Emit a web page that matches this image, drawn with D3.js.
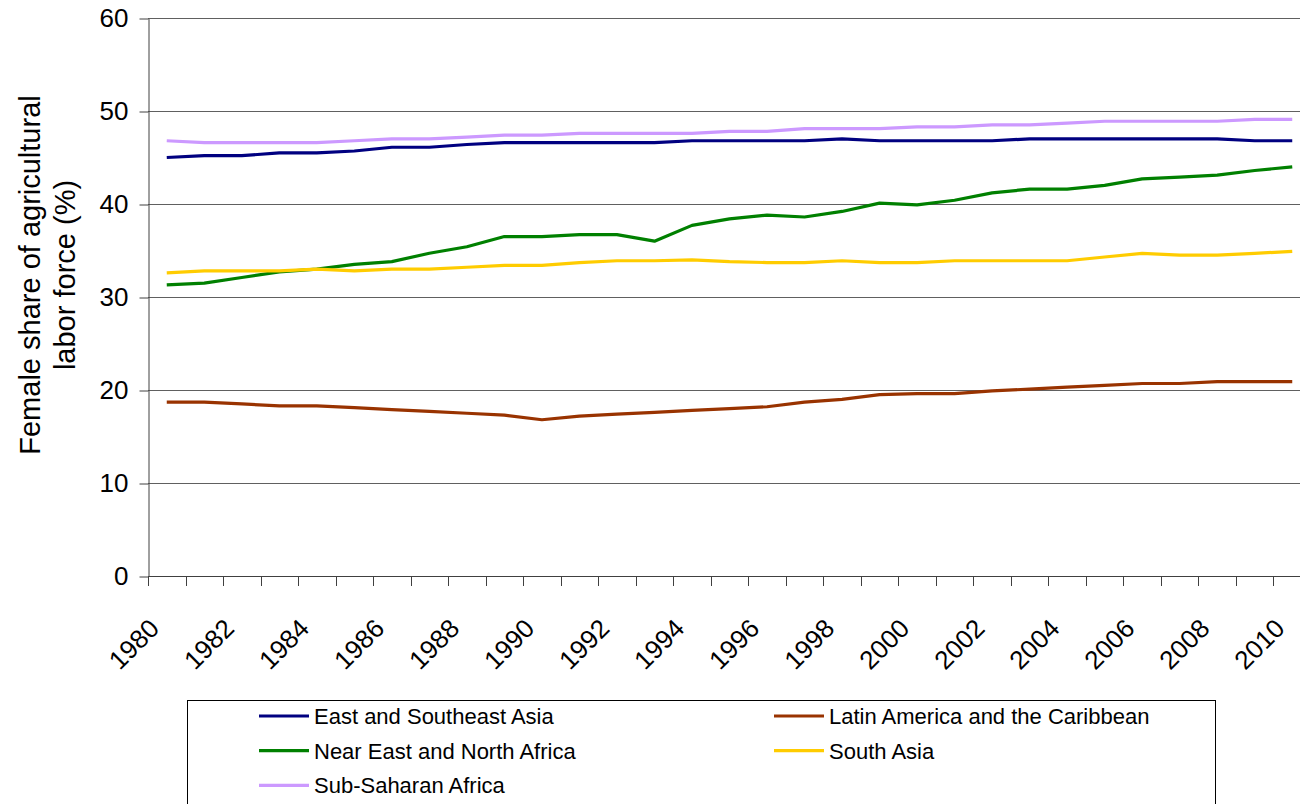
<!DOCTYPE html>
<head>
  <meta charset="utf-8">
  <script src="https://d3js.org/d3.v7.min.js"></script>
  <style>
    body { margin: 0; background: #fff; }
    text { font-family: "Liberation Sans", Arial, sans-serif; fill: #000; }
  </style>
</head>
<body>
  <svg width="1300" height="804"></svg>
  <script>
    const years = [1980, 1981, 1982, 1983, 1984, 1985, 1986, 1987, 1988, 1989,
      1990, 1991, 1992, 1993, 1994, 1995, 1996, 1997, 1998, 1999,
      2000, 2001, 2002, 2003, 2004, 2005, 2006, 2007, 2008, 2009, 2010];

    const eastAsia = [45.0, 45.2, 45.2, 45.5, 45.5, 45.7, 46.1, 46.1, 46.4, 46.6,
      46.6, 46.6, 46.6, 46.6, 46.8, 46.8, 46.8, 46.8, 47.0, 46.8,
      46.8, 46.8, 46.8, 47.0, 47.0, 47.0, 47.0, 47.0, 47.0, 46.8, 46.8];
    const latinAmerica = [18.7, 18.7, 18.5, 18.3, 18.3, 18.1, 17.9, 17.7, 17.5, 17.3,
      16.8, 17.2, 17.4, 17.6, 17.8, 18.0, 18.2, 18.7, 19.0, 19.5,
      19.6, 19.6, 19.9, 20.1, 20.3, 20.5, 20.7, 20.7, 20.9, 20.9, 20.9];
    const nearEast = [31.3, 31.5, 32.1, 32.7, 33.0, 33.5, 33.8, 34.7, 35.4, 36.5,
      36.5, 36.7, 36.7, 36.0, 37.7, 38.4, 38.8, 38.6, 39.2, 40.1,
      39.9, 40.4, 41.2, 41.6, 41.6, 42.0, 42.7, 42.9, 43.1, 43.6, 44.0];
    const southAsia = [32.6, 32.8, 32.8, 32.8, 33.0, 32.8, 33.0, 33.0, 33.2, 33.4,
      33.4, 33.7, 33.9, 33.9, 34.0, 33.8, 33.7, 33.7, 33.9, 33.7,
      33.7, 33.9, 33.9, 33.9, 33.9, 34.3, 34.7, 34.5, 34.5, 34.7, 34.9];
    const subSaharan = [46.8, 46.6, 46.6, 46.6, 46.6, 46.8, 47.0, 47.0, 47.2, 47.4,
      47.4, 47.6, 47.6, 47.6, 47.6, 47.8, 47.8, 48.1, 48.1, 48.1,
      48.3, 48.3, 48.5, 48.5, 48.7, 48.9, 48.9, 48.9, 48.9, 49.1, 49.1];

    const seriesNames = ["East and Southeast Asia", "Latin America and the Caribbean",
      "Near East and North Africa", "South Asia", "Sub-Saharan Africa"];
    const seriesValues = [eastAsia, latinAmerica, nearEast, southAsia, subSaharan];
    const seriesColors = ["#000080", "#993300", "#008000", "#ffcc00", "#cc99ff"];
    const yTicks = [0, 10, 20, 30, 40, 50, 60];

    const svg = d3.select("svg");
    const plotLeft = 148, plotRight = 1311, plotTop = 18, plotBottom = 576;

    const x = d3.scaleBand().domain(years).range([plotLeft, plotRight]);
    const y = d3.scaleLinear().domain([0, 60]).range([plotBottom, plotTop]);

    // gridlines
    svg.append("g")
      .selectAll("line")
      .data(yTicks.slice(1))
      .enter()
      .append("line")
      .attr("x1", plotLeft).attr("x2", 1300)
      .attr("y1", d => y(d) + 0.5).attr("y2", d => y(d) + 0.5)
      .attr("stroke", "#606060").attr("stroke-width", 1);

    // y axis
    const yAxis = svg.append("g")
      .attr("transform", "translate(" + (plotLeft + 0.5) + ",0.5)")
      .call(d3.axisLeft(y).tickValues(yTicks).tickSize(9).tickPadding(11).tickSizeOuter(0));
    yAxis.select(".domain").attr("stroke", "#404040");
    yAxis.selectAll(".tick line").attr("stroke", "#404040");
    yAxis.selectAll("text").style("font-size", "26px").attr("fill", "#000");

    // x axis: ticks at band boundaries
    const bounds = years.map(d => x(d)).concat([x(years[years.length - 1]) + x.bandwidth()]);
    const xg = svg.append("g");
    xg.append("line")
      .attr("x1", plotLeft).attr("x2", 1300)
      .attr("y1", plotBottom + 0.5).attr("y2", plotBottom + 0.5)
      .attr("stroke", "#404040");
    xg.selectAll("line.tk")
      .data(bounds)
      .enter()
      .append("line")
      .attr("class", "tk")
      .attr("x1", d => Math.round(d) + 0.5).attr("x2", d => Math.round(d) + 0.5)
      .attr("y1", plotBottom).attr("y2", plotBottom + 10)
      .attr("stroke", "#404040");
    xg.selectAll("text")
      .data(years.filter(d => d % 2 === 0))
      .enter()
      .append("text")
      .attr("transform", d => "translate(" + (x(d) + x.bandwidth() / 2 - 6) + ",630) rotate(-45)")
      .attr("text-anchor", "end")
      .style("font-size", "26px")
      .text(d => d);

    // y title
    const title = svg.append("text")
      .attr("transform", "translate(40,275) rotate(-90)")
      .attr("text-anchor", "middle")
      .style("font-size", "29px");
    title.append("tspan").attr("x", 0).attr("y", 0).text("Female share of agricultural");
    title.append("tspan").attr("x", 0).attr("y", 35).text("labor force (%)");

    // lines
    const line = d3.line()
      .x((d, i) => x(years[i]) + x.bandwidth() / 2)
      .y(d => y(d));

    svg.append("g")
      .selectAll("path")
      .data(seriesValues)
      .enter()
      .append("path")
      .attr("d", d => line(d))
      .attr("fill", "none")
      .attr("stroke", (d, i) => seriesColors[i])
      .attr("stroke-width", 3.2)
      .attr("stroke-linejoin", "round");

    // legend
    const legend = svg.append("g");
    legend.append("rect")
      .attr("x", 187.5).attr("y", 700.5)
      .attr("width", 1028).attr("height", 130)
      .attr("fill", "#fff").attr("stroke", "#000");

    const legendPos = [[259, 716], [774, 716], [259, 750.7], [774, 750.7], [259, 785.4]];
    legend.selectAll("g")
      .data(seriesNames)
      .enter()
      .append("g")
      .attr("transform", (d, i) => "translate(" + legendPos[i][0] + "," + legendPos[i][1] + ")")
      .each(function (d, i) {
        const g = d3.select(this);
        g.append("line")
          .attr("x1", 0).attr("x2", 50)
          .attr("y1", 0).attr("y2", 0)
          .attr("stroke", seriesColors[i])
          .attr("stroke-width", 3.2);
        g.append("text")
          .attr("x", 55).attr("y", 8)
          .style("font-size", "22px")
          .text(d);
      });
  </script>
</body>
